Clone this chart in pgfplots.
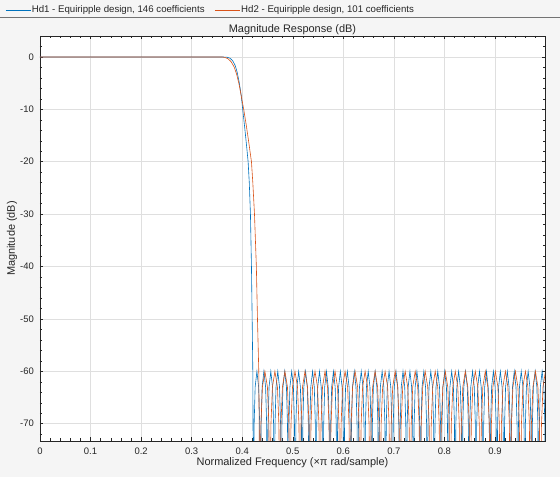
\documentclass[border=0pt]{standalone}
\usepackage{pgfplots}
\pgfplotsset{compat=1.18}
\usepackage{fontspec}
\setmainfont{Liberation Sans}
\definecolor{mblue}{RGB}{0,114,189}
\definecolor{morange}{RGB}{217,83,25}
\definecolor{bgc}{RGB}{245,245,245}
\definecolor{axc}{RGB}{38,38,38}
\definecolor{gridc}{RGB}{223,223,223}
\begin{document}
\begin{tikzpicture}
\useasboundingbox (0bp,0bp) rectangle (560bp,477bp);
\fill[bgc] (0bp,0bp) rectangle (560bp,477bp);
\draw[black!55, line width=0.8bp] (0bp,460bp) -- (560bp,460bp);
\begin{axis}[
  at={(40bp,36bp)}, anchor=south west, scale only axis,
  width=505bp, height=405bp,
  xmin=0, xmax=0.999, ymin=-73.3, ymax=4,
  xtick={0,0.1,0.2,0.3,0.4,0.5,0.6,0.7,0.8,0.9},
  ytick={-70,-60,-50,-40,-30,-20,-10,0},
  minor xtick={0.02,0.04,0.06,0.08,0.12,0.14,0.16,0.18,0.22,0.24,0.26,0.28,0.32,0.34,0.36,0.38,0.42,0.44,0.46,0.48,0.52,0.54,0.56,0.58,0.62,0.64,0.66,0.68,0.72,0.74,0.76,0.78,0.82,0.84,0.86,0.88,0.92,0.94,0.96,0.98},
  minor ytick={-72,-68,-66,-64,-62,-58,-56,-54,-52,-48,-46,-44,-42,-38,-36,-34,-32,-28,-26,-24,-22,-18,-16,-14,-12,-8,-6,-4,-2,2},
  xmajorgrids, ymajorgrids,
  grid style={gridc, line width=0.5bp},
  tick align=inside, major tick length=3.5bp, minor tick length=2.5bp,
  every tick/.style={axc, line width=0.5bp},
  axis line style={axc, line width=0.6bp},
  axis background/.style={fill=white},
  /pgf/number format/assume math mode=true,
  /pgf/number format/fixed,
  tick label style={font=\fontsize{9.5}{11}\selectfont, text=axc},
  xticklabel style={anchor=north, inner sep=0pt, yshift=-7bp},
  yticklabel style={anchor=east, inner sep=0pt, xshift=-6bp},
  title={Magnitude Response (dB)},
  title style={at={(0.5,1.0222)}, anchor=center, yshift=-9bp, inner sep=0pt, font=\fontsize{11}{13}\selectfont, text=axc},
  xlabel={Normalized Frequency (×π rad/sample)},
  xlabel style={at={(0.5,-0.0543)}, anchor=center, inner sep=0pt, font=\fontsize{11}{13}\selectfont, text=axc},
  ylabel={Magnitude (dB)},
  ylabel style={at={(-0.0554,0.5)}, anchor=center, inner sep=0pt, font=\fontsize{11}{13}\selectfont, text=axc},
  legend columns=2,
  legend cell align=left,
  legend style={at={(-0.0752,1.0642)}, anchor=west, draw=none, fill=none,
    font=\fontsize{9.7}{11}\selectfont, text=axc,
    nodes={inner sep=1bp},
    /tikz/every even column/.append style={column sep=9bp}},
  legend image code/.code={\draw[#1, line width=0.6bp] (0bp,0bp) -- (25bp,0bp);},
]
\addplot[mblue, line width=0.6bp] coordinates {
(0,0)(0.36,0)(0.370,-0.05)(0.376,-0.25)(0.381,-0.7)(0.386,-1.6)(0.390,-2.9)(0.394,-4.8)(0.398,-7.3)(0.401,-10)(0.405,-13.5)(0.409,-17.3)(0.4117,-20)(0.414,-24)(0.4163,-30)(0.4183,-40)(0.4197,-50)(0.4210,-60)
(0.4222,-90)(0.4236,-70.2)(0.4256,-63)(0.4291,-60)(0.4325,-63)(0.4346,-70.2)
(0.4360,-90)(0.4374,-70.2)(0.4394,-63)(0.4429,-60)(0.4463,-63)(0.4484,-70.2)
(0.4497,-90)(0.4511,-70.2)(0.4531,-63)(0.4566,-60)(0.4600,-63)(0.4621,-70.2)
(0.4635,-90)(0.4649,-70.2)(0.4669,-63)(0.4704,-60)(0.4738,-63)(0.4759,-70.2)
(0.4772,-90)(0.4786,-70.2)(0.4806,-63)(0.4841,-60)(0.4875,-63)(0.4896,-70.2)
(0.4910,-90)(0.4924,-70.2)(0.4944,-63)(0.4979,-60)(0.5013,-63)(0.5034,-70.2)
(0.5048,-90)(0.5062,-70.2)(0.5082,-63)(0.5117,-60)(0.5151,-63)(0.5172,-70.2)
(0.5185,-90)(0.5199,-70.2)(0.5219,-63)(0.5254,-60)(0.5288,-63)(0.5309,-70.2)
(0.5323,-90)(0.5337,-70.2)(0.5357,-63)(0.5392,-60)(0.5426,-63)(0.5447,-70.2)
(0.5460,-90)(0.5474,-70.2)(0.5494,-63)(0.5529,-60)(0.5563,-63)(0.5584,-70.2)
(0.5598,-90)(0.5612,-70.2)(0.5632,-63)(0.5667,-60)(0.5701,-63)(0.5722,-70.2)
(0.5736,-90)(0.5750,-70.2)(0.5770,-63)(0.5805,-60)(0.5839,-63)(0.5860,-70.2)
(0.5873,-90)(0.5887,-70.2)(0.5907,-63)(0.5942,-60)(0.5976,-63)(0.5997,-70.2)
(0.6011,-90)(0.6025,-70.2)(0.6045,-63)(0.6080,-60)(0.6114,-63)(0.6135,-70.2)
(0.6148,-90)(0.6162,-70.2)(0.6182,-63)(0.6217,-60)(0.6251,-63)(0.6272,-70.2)
(0.6286,-90)(0.6300,-70.2)(0.6320,-63)(0.6355,-60)(0.6389,-63)(0.6410,-70.2)
(0.6424,-90)(0.6438,-70.2)(0.6458,-63)(0.6493,-60)(0.6527,-63)(0.6548,-70.2)
(0.6561,-90)(0.6575,-70.2)(0.6595,-63)(0.6630,-60)(0.6664,-63)(0.6685,-70.2)
(0.6699,-90)(0.6713,-70.2)(0.6733,-63)(0.6768,-60)(0.6802,-63)(0.6823,-70.2)
(0.6836,-90)(0.6850,-70.2)(0.6870,-63)(0.6905,-60)(0.6939,-63)(0.6960,-70.2)
(0.6974,-90)(0.6988,-70.2)(0.7008,-63)(0.7043,-60)(0.7077,-63)(0.7098,-70.2)
(0.7112,-90)(0.7126,-70.2)(0.7146,-63)(0.7181,-60)(0.7215,-63)(0.7236,-70.2)
(0.7249,-90)(0.7263,-70.2)(0.7283,-63)(0.7318,-60)(0.7352,-63)(0.7373,-70.2)
(0.7387,-90)(0.7401,-70.2)(0.7421,-63)(0.7456,-60)(0.7490,-63)(0.7511,-70.2)
(0.7524,-90)(0.7538,-70.2)(0.7558,-63)(0.7593,-60)(0.7627,-63)(0.7648,-70.2)
(0.7662,-90)(0.7676,-70.2)(0.7696,-63)(0.7731,-60)(0.7765,-63)(0.7786,-70.2)
(0.7800,-90)(0.7814,-70.2)(0.7834,-63)(0.7869,-60)(0.7903,-63)(0.7924,-70.2)
(0.7937,-90)(0.7951,-70.2)(0.7971,-63)(0.8006,-60)(0.8040,-63)(0.8061,-70.2)
(0.8075,-90)(0.8089,-70.2)(0.8109,-63)(0.8144,-60)(0.8178,-63)(0.8199,-70.2)
(0.8212,-90)(0.8226,-70.2)(0.8246,-63)(0.8281,-60)(0.8315,-63)(0.8336,-70.2)
(0.8350,-90)(0.8364,-70.2)(0.8384,-63)(0.8419,-60)(0.8453,-63)(0.8474,-70.2)
(0.8488,-90)(0.8502,-70.2)(0.8522,-63)(0.8557,-60)(0.8591,-63)(0.8612,-70.2)
(0.8625,-90)(0.8639,-70.2)(0.8659,-63)(0.8694,-60)(0.8728,-63)(0.8749,-70.2)
(0.8763,-90)(0.8777,-70.2)(0.8797,-63)(0.8832,-60)(0.8866,-63)(0.8887,-70.2)
(0.8900,-90)(0.8914,-70.2)(0.8934,-63)(0.8969,-60)(0.9003,-63)(0.9024,-70.2)
(0.9038,-90)(0.9052,-70.2)(0.9072,-63)(0.9107,-60)(0.9141,-63)(0.9162,-70.2)
(0.9176,-90)(0.9190,-70.2)(0.9210,-63)(0.9245,-60)(0.9279,-63)(0.9300,-70.2)
(0.9313,-90)(0.9327,-70.2)(0.9347,-63)(0.9382,-60)(0.9416,-63)(0.9437,-70.2)
(0.9451,-90)(0.9465,-70.2)(0.9485,-63)(0.9520,-60)(0.9554,-63)(0.9575,-70.2)
(0.9588,-90)(0.9602,-70.2)(0.9622,-63)(0.9657,-60)(0.9691,-63)(0.9712,-70.2)
(0.9726,-90)(0.9740,-70.2)(0.9760,-63)(0.9795,-60)(0.9829,-63)(0.9850,-70.2)
(0.9864,-90)(0.9878,-70.2)(0.9898,-63)(0.9933,-60)(0.9967,-63)(0.9988,-70.2)
(1.0,-90)
};
\addlegendentry{Hd1 - Equiripple design, 146 coefficients}
\addplot[morange, line width=0.6bp] coordinates {
(0,0)(0.36,0)(0.366,-0.1)(0.372,-0.35)(0.378,-0.9)(0.384,-1.9)(0.389,-3.3)(0.394,-5.3)(0.398,-7.4)(0.403,-10)(0.408,-13)(0.413,-16.3)(0.4183,-20)(0.421,-24)(0.4243,-30)(0.428,-40)(0.4302,-50)(0.4328,-60)
(0.4350,-90)(0.4370,-70.2)(0.4400,-63)(0.4449,-60)(0.4499,-63)(0.4528,-70.2)
(0.4548,-90)(0.4568,-70.2)(0.4598,-63)(0.4647,-60)(0.4697,-63)(0.4726,-70.2)
(0.4746,-90)(0.4766,-70.2)(0.4796,-63)(0.4845,-60)(0.4895,-63)(0.4924,-70.2)
(0.4945,-90)(0.4965,-70.2)(0.4995,-63)(0.5044,-60)(0.5094,-63)(0.5123,-70.2)
(0.5143,-90)(0.5163,-70.2)(0.5193,-63)(0.5242,-60)(0.5292,-63)(0.5321,-70.2)
(0.5341,-90)(0.5361,-70.2)(0.5391,-63)(0.5440,-60)(0.5490,-63)(0.5519,-70.2)
(0.5539,-90)(0.5559,-70.2)(0.5589,-63)(0.5638,-60)(0.5688,-63)(0.5717,-70.2)
(0.5737,-90)(0.5757,-70.2)(0.5787,-63)(0.5836,-60)(0.5886,-63)(0.5915,-70.2)
(0.5936,-90)(0.5956,-70.2)(0.5986,-63)(0.6035,-60)(0.6085,-63)(0.6114,-70.2)
(0.6134,-90)(0.6154,-70.2)(0.6184,-63)(0.6233,-60)(0.6283,-63)(0.6312,-70.2)
(0.6332,-90)(0.6352,-70.2)(0.6382,-63)(0.6431,-60)(0.6481,-63)(0.6510,-70.2)
(0.6530,-90)(0.6550,-70.2)(0.6580,-63)(0.6629,-60)(0.6679,-63)(0.6708,-70.2)
(0.6728,-90)(0.6748,-70.2)(0.6778,-63)(0.6827,-60)(0.6877,-63)(0.6906,-70.2)
(0.6927,-90)(0.6947,-70.2)(0.6977,-63)(0.7026,-60)(0.7076,-63)(0.7105,-70.2)
(0.7125,-90)(0.7145,-70.2)(0.7175,-63)(0.7224,-60)(0.7274,-63)(0.7303,-70.2)
(0.7323,-90)(0.7343,-70.2)(0.7373,-63)(0.7422,-60)(0.7472,-63)(0.7501,-70.2)
(0.7521,-90)(0.7541,-70.2)(0.7571,-63)(0.7620,-60)(0.7670,-63)(0.7699,-70.2)
(0.7719,-90)(0.7739,-70.2)(0.7769,-63)(0.7818,-60)(0.7868,-63)(0.7897,-70.2)
(0.7918,-90)(0.7938,-70.2)(0.7968,-63)(0.8017,-60)(0.8067,-63)(0.8096,-70.2)
(0.8116,-90)(0.8136,-70.2)(0.8166,-63)(0.8215,-60)(0.8265,-63)(0.8294,-70.2)
(0.8314,-90)(0.8334,-70.2)(0.8364,-63)(0.8413,-60)(0.8463,-63)(0.8492,-70.2)
(0.8512,-90)(0.8532,-70.2)(0.8562,-63)(0.8611,-60)(0.8661,-63)(0.8690,-70.2)
(0.8710,-90)(0.8730,-70.2)(0.8760,-63)(0.8809,-60)(0.8859,-63)(0.8888,-70.2)
(0.8909,-90)(0.8929,-70.2)(0.8959,-63)(0.9008,-60)(0.9058,-63)(0.9087,-70.2)
(0.9107,-90)(0.9127,-70.2)(0.9157,-63)(0.9206,-60)(0.9256,-63)(0.9285,-70.2)
(0.9305,-90)(0.9325,-70.2)(0.9355,-63)(0.9404,-60)(0.9454,-63)(0.9483,-70.2)
(0.9503,-90)(0.9523,-70.2)(0.9553,-63)(0.9602,-60)(0.9652,-63)(0.9681,-70.2)
(0.9701,-90)(0.9721,-70.2)(0.9751,-63)(0.9800,-60)(0.9850,-63)(0.9879,-70.2)
(0.9900,-90)(0.9920,-70.2)(0.9950,-63)(0.9999,-60)
};
\addlegendentry{Hd2 - Equiripple design, 101 coefficients}
\end{axis}
\end{tikzpicture}
\end{document}
